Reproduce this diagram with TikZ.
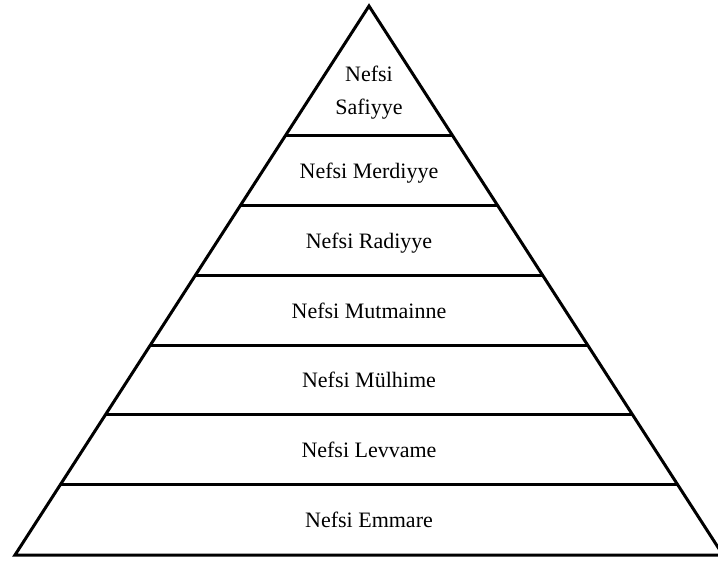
\documentclass[tikz,border=0pt]{standalone}
\usepackage{fontspec}
\setmainfont{Liberation Serif}
\usetikzlibrary{calc}

\begin{document}
\begin{tikzpicture}[x=1pt,y=-1pt,
    level/.style={font=\fontsize{22}{33}\selectfont,inner sep=0pt,
        text height=15pt,text depth=0pt}]
\useasboundingbox (0,0) rectangle (718,561);
\coordinate (apex) at (369,6);
\coordinate (baseL) at (15,555);
\coordinate (baseR) at (723,555);

% Outline of the pyramid
\draw[line width=3pt,line join=miter] (baseL) -- (apex) -- (baseR) -- cycle;

% Dividing lines between the levels
\foreach \y in {136,206,276,346,415,485} {
  \pgfmathsetmacro{\t}{(\y-6)/549}
  \draw[line width=3pt] ($(apex)!\t!(baseL)$) -- ($(apex)!\t!(baseR)$);
}

% Level labels
\node[font=\fontsize{22}{33}\selectfont,inner sep=0pt,align=center,anchor=north]
    (safiyye) at (369,66) {Nefsi\\Safiyye};
\node[level] (merdiyye) at (369,171) {Nefsi Merdiyye};
\node[level] (radiyye) at (369,241) {Nefsi Radiyye};
\node[level] (mutmainne) at (369,311) {Nefsi Mutmainne};
\node[level] (mulhime) at (369,380.5) {Nefsi Mülhime};
\node[level] (levvame) at (369,450) {Nefsi Levvame};
\node[level] (emmare) at (369,520) {Nefsi Emmare};
\end{tikzpicture}
\end{document}
